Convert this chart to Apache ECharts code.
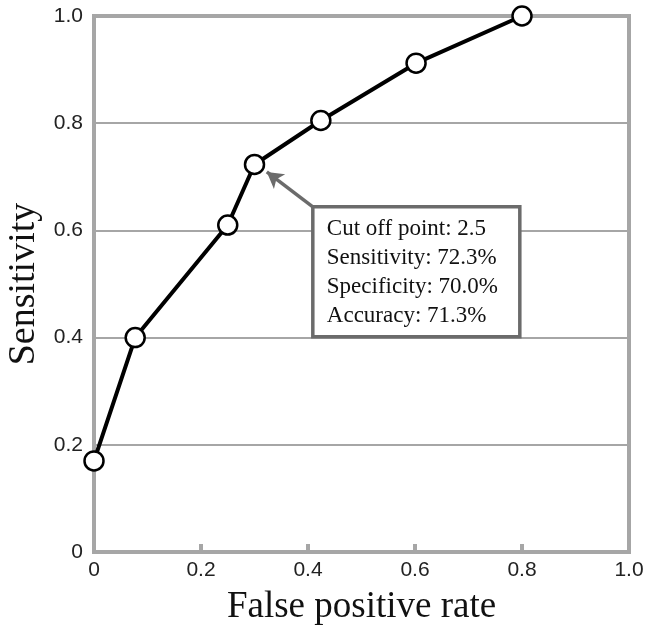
<!DOCTYPE html>
<html>
<head>
<meta charset="utf-8">
<script src="https://cdn.jsdelivr.net/npm/echarts@6/dist/echarts.min.js"></script>
<style>
  html, body { margin: 0; padding: 0; background: #fff; }
  #chart { width: 649px; height: 628px; }
</style>
</head>
<body>
<div id="chart"></div>
<script>
// ROC curve points: [false positive rate, sensitivity]
const fpr = [0, 0.077, 0.25, 0.30, 0.424, 0.602, 0.80]
const sensitivity = [0.17, 0.40, 0.61, 0.723, 0.805, 0.912, 1.0]
const boxLines = [
  'Cut off point: 2.5',
  'Sensitivity: 72.3%',
  'Specificity: 70.0%',
  'Accuracy: 71.3%',
]
// where the callout box sits, in data units (top-left corner)
const boxAnchor = [0.409, 0.644]
const arrowTip = [0.323, 0.709]

const chart = echarts.init(document.getElementById('chart'))

const gray = '#a6a6a6'
const serif = '"Liberation Serif", "Times New Roman", serif'
const sans = '"Liberation Sans", Arial, sans-serif'

const option = {
  animation: false,
  backgroundColor: '#fff',
  grid: {
    left: 94,
    right: 20,
    top: 16,
    bottom: 76,
    outerBoundsMode: 'none',
    containLabel: false,
    show: true,
    borderColor: gray,
    borderWidth: 4,
  },
  xAxis: {
    type: 'value',
    min: 0,
    max: 1,
    interval: 0.2,
    name: 'False positive rate',
    nameLocation: 'middle',
    nameGap: 37,
    nameTextStyle: { fontFamily: serif, fontSize: 37, color: '#111' },
    axisLine: { show: false },
    axisTick: { show: true, inside: true, length: 8, lineStyle: { color: gray, width: 4 } },
    splitLine: { show: false },
    axisLabel: {
      fontFamily: sans,
      fontSize: 21,
      color: '#222',
      margin: 8,
      formatter: v => (v === 0 ? '0' : v.toFixed(1)),
    },
  },
  yAxis: {
    type: 'value',
    min: 0,
    max: 1,
    interval: 0.2,
    name: 'Sensitivity',
    nameLocation: 'middle',
    nameGap: 48,
    nameTextStyle: { fontFamily: serif, fontSize: 38, color: '#111' },
    axisLine: { show: false },
    axisTick: { show: false },
    splitLine: { show: true, lineStyle: { color: gray, width: 2 } },
    axisLabel: {
      fontFamily: sans,
      fontSize: 21,
      color: '#222',
      margin: 11,
      formatter: v => (v === 0 ? '0' : v.toFixed(1)),
    },
  },
  series: [
    {
      type: 'line',
      data: fpr.map((x, i) => [x, sensitivity[i]]),
      symbol: 'circle',
      symbolSize: 19,
      showAllSymbol: true,
      lineStyle: { color: '#000', width: 4 },
      itemStyle: { color: '#fff', borderColor: '#000', borderWidth: 2.5 },
      z: 5,
      markLine: {
        silent: true,
        symbol: ['none', 'arrow'],
        symbolSize: [14, 16],
        label: { show: false },
        lineStyle: { color: '#6b6b6b', width: 3.5, type: 'solid' },
        data: [[{ coord: boxAnchor }, { coord: arrowTip }]],
      },
    },
  ],
}

chart.setOption(option)

// callout box, positioned through the axes
const corner = chart.convertToPixel({ gridIndex: 0 }, boxAnchor)
chart.setOption({
  graphic: [
    {
      type: 'group',
      x: corner[0],
      y: corner[1],
      z: 10,
      children: [
        {
          type: 'rect',
          shape: { x: 0, y: 0, width: 207, height: 130 },
          style: { fill: '#fff', stroke: '#6b6b6b', lineWidth: 3.5 },
        },
        {
          type: 'text',
          x: 14,
          y: 8,
          style: {
            text: boxLines.join('\n'),
            font: '23px ' + serif,
            fill: '#111',
            lineHeight: 29,
          },
        },
      ],
    },
  ],
})
</script>
</body>
</html>
